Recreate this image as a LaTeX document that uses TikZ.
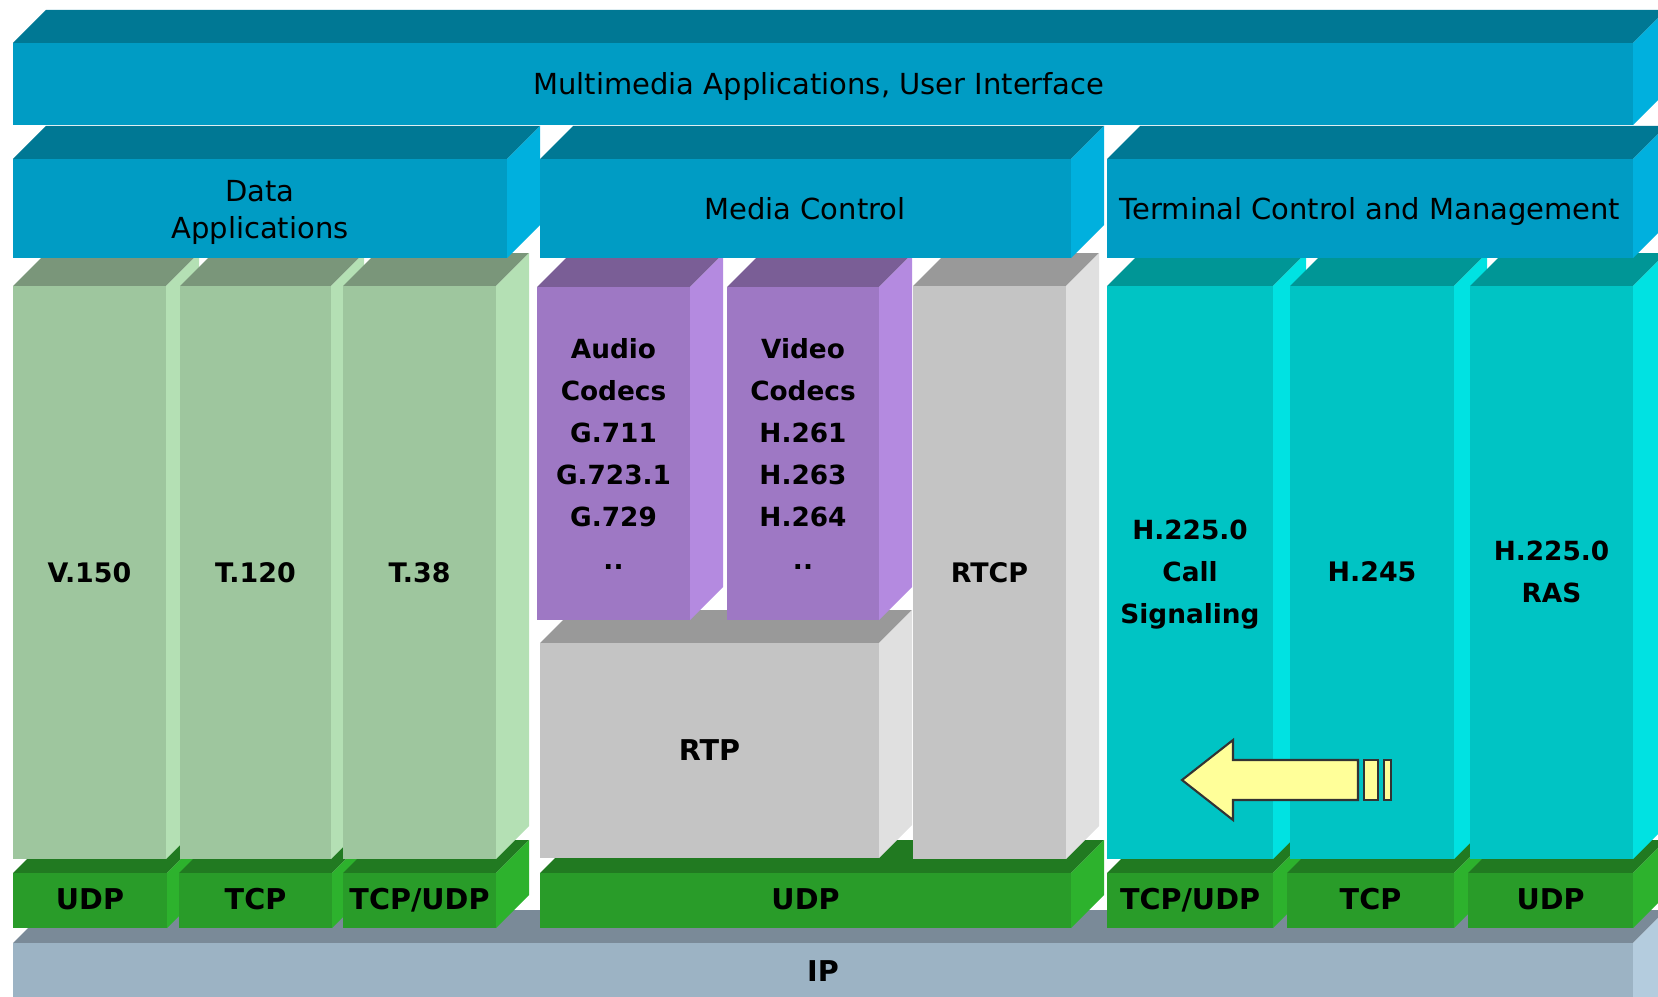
\documentclass[tikz,border=0pt]{standalone}
\usepackage{fontspec}
\setmainfont{DejaVu Sans}
\definecolor{barF}{HTML}{009CC4}
\definecolor{barT}{HTML}{007894}
\definecolor{barS}{HTML}{00B0DE}
\definecolor{grnF}{HTML}{9EC69E}
\definecolor{grnT}{HTML}{7A967A}
\definecolor{grnS}{HTML}{B4E0B4}
\definecolor{purF}{HTML}{9E78C4}
\definecolor{purT}{HTML}{7A5E96}
\definecolor{purS}{HTML}{B48AE0}
\definecolor{gryF}{HTML}{C4C4C4}
\definecolor{gryT}{HTML}{999999}
\definecolor{gryS}{HTML}{E0E0E0}
\definecolor{tealF}{HTML}{00C4C4}
\definecolor{tealT}{HTML}{009696}
\definecolor{tealS}{HTML}{00E2E2}
\definecolor{trF}{HTML}{299C29}
\definecolor{trT}{HTML}{217A21}
\definecolor{trS}{HTML}{2DB22D}
\definecolor{ipF}{HTML}{9CB3C4}
\definecolor{ipT}{HTML}{7A8A98}
\definecolor{ipS}{HTML}{B4CCDE}
\definecolor{arrF}{HTML}{FFFF99}
\newcommand\drawblock[7]{%
  \fill[#6] (#1,#2) -- (#1+33,#2-33) -- (#3+33,#2-33) -- (#3,#2) -- cycle;
  \fill[#7] (#3,#2) -- (#3+33,#2-33) -- (#3+33,#4-33) -- (#3,#4) -- cycle;
  \fill[#5] (#1,#2) rectangle (#3,#4);
}
\begin{document}
\begin{tikzpicture}[x=0.02cm,y=-0.02cm,
  reg/.style={anchor=base,font=\fontsize{16.5}{20}\selectfont,inner sep=0pt},
  lbl/.style={anchor=base,font=\fontsize{15.3}{20}\selectfont\bfseries,inner sep=0pt},
  cod/.style={anchor=base,font=\fontsize{15}{20}\selectfont\bfseries,inner sep=0pt},
  big/.style={anchor=base,font=\fontsize{16.3}{20}\selectfont\bfseries,inner sep=0pt},
  arrowshape/.style={fill=arrF,draw=black!80,line width=1.2pt,line join=miter}]
\useasboundingbox (0,0) rectangle (1658,997);
\clip (0,0) rectangle (1658,997);
% IP layer
\drawblock{13}{943}{1633}{1040}{ipF}{ipT}{ipS}
% transport layer
\drawblock{13}{873}{167}{928}{trF}{trT}{trS}
\drawblock{179}{873}{332}{928}{trF}{trT}{trS}
\drawblock{343}{873}{496}{928}{trF}{trT}{trS}
\drawblock{540}{873}{1071}{928}{trF}{trT}{trS}
\drawblock{1107}{873}{1273}{928}{trF}{trT}{trS}
\drawblock{1287}{873}{1454}{928}{trF}{trT}{trS}
\drawblock{1468}{873}{1633}{928}{trF}{trT}{trS}
% columns
\drawblock{13}{286}{166}{859}{grnF}{grnT}{grnS}
\drawblock{180}{286}{331}{859}{grnF}{grnT}{grnS}
\drawblock{343}{286}{496}{859}{grnF}{grnT}{grnS}
\drawblock{540}{643}{879}{858}{gryF}{gryT}{gryS}
\drawblock{537}{287}{690}{620}{purF}{purT}{purS}
\drawblock{727}{287}{879}{620}{purF}{purT}{purS}
\drawblock{913}{286}{1066}{859}{gryF}{gryT}{gryS}
\drawblock{1107}{286}{1273}{859}{tealF}{tealT}{tealS}
\drawblock{1290}{286}{1454}{859}{tealF}{tealT}{tealS}
\drawblock{1470}{286}{1633}{859}{tealF}{tealT}{tealS}
% second row
\drawblock{13}{159}{507}{258}{barF}{barT}{barS}
\drawblock{540}{159}{1071}{258}{barF}{barT}{barS}
\drawblock{1107}{159}{1633}{258}{barF}{barT}{barS}
% top bar
\drawblock{13}{43}{1633}{125}{barF}{barT}{barS}
% arrow
\draw[arrowshape] (1182,780) -- (1233,740) -- (1233,760) -- (1358,760) -- (1358,800) -- (1233,800) -- (1233,820) -- cycle;
\draw[arrowshape] (1364,760) rectangle (1378,800);
\draw[arrowshape] (1384,760) rectangle (1391,800);
% texts
\node[reg] (mm) at (819,95) {Multimedia Applications, User Interface};
\node[reg] (da1) at (260,202) {Data};
\node[reg] (da2) at (260,238) {Applications};
\node[reg] (mc) at (805,219) {Media Control};
\node[reg] (tc) at (1370,219) {Terminal Control and Management};
\node[lbl] (v150) at (89.5,582) {V.150};
\node[lbl] (t120) at (255.5,582) {T.120};
\node[lbl] (t38) at (419.5,582) {T.38};
\node[cod] (a1) at (613.5,358) {Audio};
\node[cod] (a2) at (613.5,400) {Codecs};
\node[cod] (a3) at (613.5,442) {G.711};
\node[cod] (a4) at (613.5,484) {G.723.1};
\node[cod] (a5) at (613.5,526) {G.729};
\node[cod] (a6) at (613.5,569) {..};
\node[cod] (v1) at (803,358) {Video};
\node[cod] (v2) at (803,400) {Codecs};
\node[cod] (v3) at (803,442) {H.261};
\node[cod] (v4) at (803,484) {H.263};
\node[cod] (v5) at (803,526) {H.264};
\node[cod] (v6) at (803,569) {..};
\node[lbl] (rtcp) at (989.5,582) {RTCP};
\node[big] (rtp) at (709.5,760) {RTP};
\node[cod] (cs1) at (1190,539) {H.225.0};
\node[cod] (cs2) at (1190,581) {Call};
\node[cod] (cs3) at (1190,623) {Signaling};
\node[lbl] (h245) at (1372,581) {H.245};
\node[cod] (ras1) at (1551.5,560) {H.225.0};
\node[cod] (ras2) at (1551.5,602) {RAS};
\node[big] (u1) at (90,909) {UDP};
\node[big] (t1) at (255.5,909) {TCP};
\node[big] (tu1) at (419.5,909) {TCP/UDP};
\node[big] (u2) at (805.5,909) {UDP};
\node[big] (tu2) at (1190,909) {TCP/UDP};
\node[big] (t2) at (1370.5,909) {TCP};
\node[big] (u3) at (1550.5,909) {UDP};
\node[big] (ip) at (823,981) {IP};
\end{tikzpicture}
\end{document}
